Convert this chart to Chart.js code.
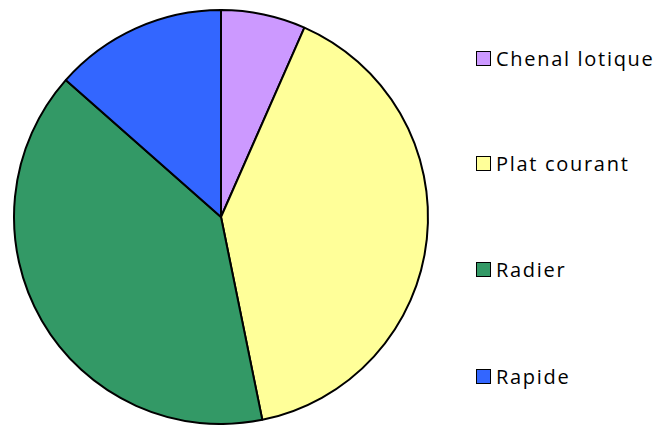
<!DOCTYPE html>
<html>
<head>
<meta charset="utf-8">
<script src="https://cdn.jsdelivr.net/npm/chart.js@4"></script>
<style>
  body { margin: 0; background: #fff; width: 660px; height: 425px; overflow: hidden; position: relative; font-family: "Open Sans", sans-serif; }
  #wrap { position: absolute; left: 0; top: 0; width: 442px; height: 425px; }
  #legend { position: absolute; left: 476px; top: 0; }
  .item { position: absolute; left: 0; display: flex; align-items: center; white-space: nowrap; font-size: 20px; letter-spacing: 1.7px; color: #000; }
  .box { flex: none; width: 13px; height: 13px; border: 1.5px solid #000; margin-right: 5px; }
</style>
</head>
<body>
<div id="wrap"><canvas id="chart"></canvas></div>
<div id="legend"></div>
<script>
const labels = ["Chenal lotique", "Plat courant", "Radier", "Rapide"];
const values = [6.6, 40.2, 39.7, 13.5];
const colors = ["#CC99FF", "#FFFF99", "#339966", "#3366FF"];
const legendTops = [45, 150, 256, 363];

new Chart(document.getElementById("chart"), {
  type: "pie",
  data: {
    labels,
    datasets: [{
      data: values,
      backgroundColor: colors,
      borderColor: "#000",
      borderWidth: 2,
    }],
  },
  options: {
    responsive: true,
    maintainAspectRatio: false,
    animation: false,
    layout: { padding: { top: 9, bottom: 0, left: 0, right: 0 } },
    plugins: { legend: { display: false }, tooltip: { enabled: false } },
  },
});

document.getElementById("legend").innerHTML = labels
  .map((l, i) => `<div class="item" style="top:${legendTops[i]}px"><span class="box" style="background:${colors[i]}"></span>${l}</div>`)
  .join("");
</script>
</body>
</html>
